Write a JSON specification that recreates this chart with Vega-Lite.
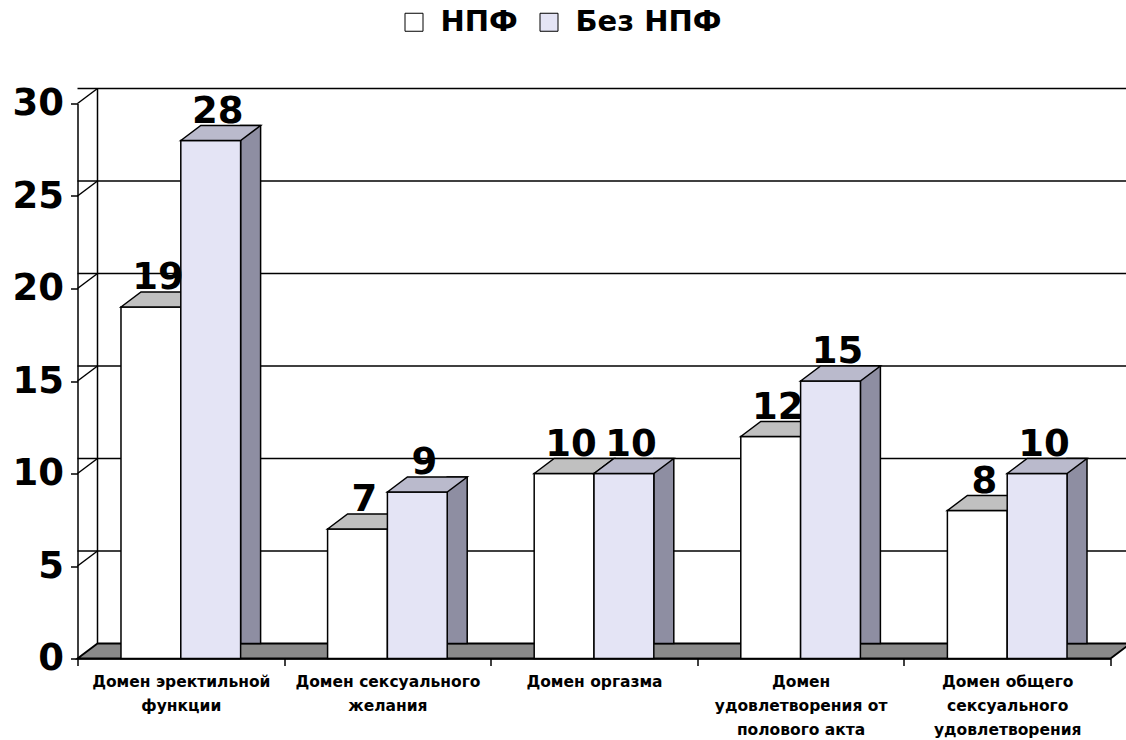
{
  "$schema": "https://vega.github.io/schema/vega-lite/v6.json",
  "width": 1033,
  "height": 555,
  "autosize": {"type": "none"},
  "padding": {"left": 77.5, "top": 103.5, "right": 15.5, "bottom": 81.5},
  "background": "white",
  "config": {
    "view": {"stroke": null},
    "font": "DejaVu Sans",
    "legend": {"padding": 0}
  },
  "datasets": {
    "scores": [
      {"domain": "Домен эректильной\nфункции", "group": "НПФ", "value": 19},
      {"domain": "Домен эректильной\nфункции", "group": "Без НПФ", "value": 28},
      {"domain": "Домен сексуального\nжелания", "group": "НПФ", "value": 7},
      {"domain": "Домен сексуального\nжелания", "group": "Без НПФ", "value": 9},
      {"domain": "Домен оргазма", "group": "НПФ", "value": 10},
      {"domain": "Домен оргазма", "group": "Без НПФ", "value": 10},
      {"domain": "Домен\nудовлетворения от\nполового акта", "group": "НПФ", "value": 12},
      {"domain": "Домен\nудовлетворения от\nполового акта", "group": "Без НПФ", "value": 15},
      {"domain": "Домен общего\nсексуального\nудовлетворения", "group": "НПФ", "value": 8},
      {"domain": "Домен общего\nсексуального\nудовлетворения", "group": "Без НПФ", "value": 10}
    ],
    "grid": [{"v": 5}, {"v": 10}, {"v": 15}, {"v": 20}, {"v": 25}, {"v": 30}],
    "one": [{"k": 1}]
  },
  "layer": [
    {
      "data": {"name": "grid"},
      "mark": {"type": "rule", "stroke": "black", "strokeWidth": 1.5, "xOffset": 20, "x2Offset": 20, "yOffset": -15},
      "encoding": {
        "y": {"field": "v", "type": "quantitative", "scale": {"domain": [0, 30], "nice": false},
          "axis": {"values": [0, 5, 10, 15, 20, 25, 30], "grid": false, "title": null,
            "domainColor": "black", "domainWidth": 1.5, "tickColor": "black", "tickWidth": 1.5, "tickSize": 7,
            "labelFont": "DejaVu Sans", "labelFontWeight": "bold", "labelFontSize": 37, "labelColor": "black", "labelPadding": 7}}
      }
    },
    {
      "data": {"name": "grid"},
      "mark": {"type": "point", "shape": "M0,0L20,-15", "size": 4, "filled": false, "stroke": "black", "strokeWidth": 1.5, "opacity": 1},
      "encoding": {
        "x": {"datum": "Домен эректильной\nфункции", "type": "nominal", "bandPosition": 0},
        "y": {"field": "v", "type": "quantitative"}
      }
    },
    {
      "data": {"name": "one"},
      "mark": {"type": "rule", "stroke": "black", "strokeWidth": 1.5, "xOffset": 20, "yOffset": -15, "y2Offset": -15},
      "encoding": {
        "x": {"datum": "Домен эректильной\nфункции", "type": "nominal", "bandPosition": 0},
        "y": {"datum": 0, "type": "quantitative"},
        "y2": {"datum": 30}
      }
    },
    {
      "data": {"name": "one"},
      "mark": {"type": "point", "shape": "M0,0L20,-15L1053,-15L1033,0Z", "size": 4, "filled": true, "fill": "#8a8a8a", "stroke": "black", "strokeWidth": 1.8, "opacity": 1},
      "encoding": {
        "x": {"datum": "Домен эректильной\nфункции", "type": "nominal", "bandPosition": 0},
        "y": {"datum": 0, "type": "quantitative"}
      }
    },
    {
      "data": {"name": "scores"},
      "transform": [{"filter": "datum.group === 'Без НПФ'"}],
      "mark": {"type": "bar", "width": 20, "xOffset": 69.8, "yOffset": -15, "y2Offset": -15, "fill": "#8e8ea2", "stroke": "black", "strokeWidth": 1.5},
      "encoding": {
        "x": {"field": "domain", "type": "nominal",
          "scale": {"domain": ["Домен эректильной\nфункции", "Домен сексуального\nжелания", "Домен оргазма", "Домен\nудовлетворения от\nполового акта", "Домен общего\nсексуального\nудовлетворения"], "paddingInner": 0, "paddingOuter": 0},
          "axis": {"title": null, "labelAngle": 0, "labelAlign": "center", "tickBand": "extent", "domainColor": "black", "domainWidth": 1.5,
            "tickColor": "black", "tickWidth": 1.5, "tickSize": 7, "labelFont": "DejaVu Sans", "labelFontWeight": "bold",
            "labelFontSize": 15.5, "labelLineHeight": 24, "labelColor": "black", "labelPadding": 9, "labelBaseline": "top", "labelLimit": 0,
            "labelExpr": "split(datum.label, '\\n')"}},
        "y": {"field": "value", "type": "quantitative"},
        "y2": {"datum": 0}
      }
    },
    {
      "data": {"name": "scores"},
      "transform": [{"filter": "datum.group === 'НПФ'"}],
      "mark": {"type": "bar", "stroke": "black", "strokeWidth": 1.5},
      "encoding": {
        "x": {"field": "domain", "type": "nominal"},
        "xOffset": {"field": "group", "type": "nominal", "scale": {"domain": ["НПФ", "Без НПФ"], "paddingInner": 0, "paddingOuter": 0.727}},
        "y": {"field": "value", "type": "quantitative"},
        "y2": {"datum": 0},
        "fill": {"field": "group", "type": "nominal",
          "scale": {"domain": ["НПФ", "Без НПФ"], "range": ["#ffffff", "#e4e4f5"]},
          "legend": {"title": null, "orient": "none", "legendX": 322, "legendY": -96, "direction": "horizontal",
            "symbolType": "square", "symbolSize": 324, "symbolStrokeColor": "black", "symbolStrokeWidth": 1,
            "labelFont": "DejaVu Sans", "labelFontWeight": "bold", "labelFontSize": 29, "labelColor": "black",
            "labelOffset": 12, "columnPadding": 16}}
      }
    },
    {
      "data": {"name": "scores"},
      "transform": [{"filter": "datum.group === 'НПФ'"}],
      "mark": {"type": "point", "shape": "M-29.9,0L-9.9,-15L49.9,-15L29.9,0Z", "size": 4, "filled": true, "fill": "#c0c0c0", "stroke": "black", "strokeWidth": 1.5, "opacity": 1},
      "encoding": {
        "x": {"field": "domain", "type": "nominal"},
        "xOffset": {"field": "group", "type": "nominal"},
        "y": {"field": "value", "type": "quantitative"}
      }
    },
    {
      "data": {"name": "scores"},
      "transform": [{"filter": "datum.group === 'Без НПФ'"}],
      "mark": {"type": "bar", "stroke": "black", "strokeWidth": 1.5},
      "encoding": {
        "x": {"field": "domain", "type": "nominal"},
        "xOffset": {"field": "group", "type": "nominal"},
        "y": {"field": "value", "type": "quantitative"},
        "y2": {"datum": 0},
        "fill": {"field": "group", "type": "nominal"}
      }
    },
    {
      "data": {"name": "scores"},
      "transform": [{"filter": "datum.group === 'Без НПФ'"}],
      "mark": {"type": "point", "shape": "M-29.9,0L-9.9,-15L49.9,-15L29.9,0Z", "size": 4, "filled": true, "fill": "#babacc", "stroke": "black", "strokeWidth": 1.5, "opacity": 1},
      "encoding": {
        "x": {"field": "domain", "type": "nominal"},
        "xOffset": {"field": "group", "type": "nominal"},
        "y": {"field": "value", "type": "quantitative"}
      }
    },
    {
      "data": {"name": "scores"},
      "mark": {"type": "text", "font": "DejaVu Sans", "fontWeight": "bold", "fontSize": 37, "color": "black", "baseline": "alphabetic", "dx": 7, "dy": -18},
      "encoding": {
        "x": {"field": "domain", "type": "nominal"},
        "xOffset": {"field": "group", "type": "nominal"},
        "y": {"field": "value", "type": "quantitative"},
        "text": {"field": "value", "type": "quantitative"}
      }
    }
  ]
}
